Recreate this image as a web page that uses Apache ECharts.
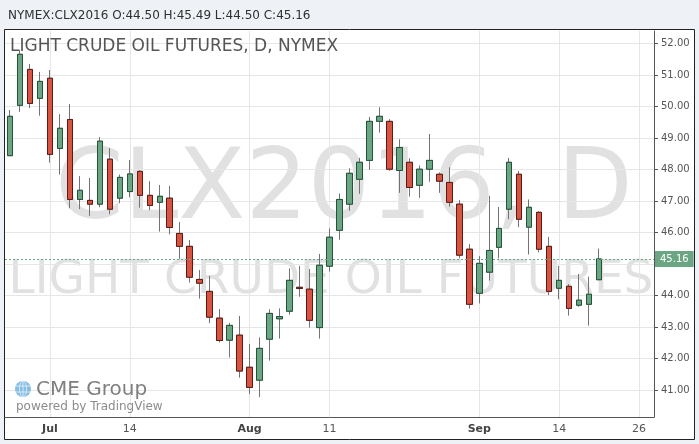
<!DOCTYPE html>
<html><head><meta charset="utf-8">
<script src="https://cdn.jsdelivr.net/npm/echarts@6/dist/echarts.min.js"></script>
<style>html,body{margin:0;padding:0;background:#eef1f6;}#c{width:699px;height:444px;}</style>
</head><body><div id="c"></div>
<script>
// Trading days (plus a few future sessions on the right)
const dates = [
 '2016-06-27','2016-06-28','2016-06-29','2016-06-30','2016-07-01','2016-07-05','2016-07-06','2016-07-07','2016-07-08',
 '2016-07-11','2016-07-12','2016-07-13','2016-07-14','2016-07-15','2016-07-18','2016-07-19','2016-07-20','2016-07-21','2016-07-22',
 '2016-07-25','2016-07-26','2016-07-27','2016-07-28','2016-07-29','2016-08-01','2016-08-02','2016-08-03','2016-08-04','2016-08-05',
 '2016-08-08','2016-08-09','2016-08-10','2016-08-11','2016-08-12','2016-08-15','2016-08-16','2016-08-17','2016-08-18','2016-08-19',
 '2016-08-22','2016-08-23','2016-08-24','2016-08-25','2016-08-26','2016-08-29','2016-08-30','2016-08-31','2016-09-01','2016-09-02',
 '2016-09-06','2016-09-07','2016-09-08','2016-09-09','2016-09-12','2016-09-13','2016-09-14','2016-09-15','2016-09-16','2016-09-19',
 '2016-09-20','2016-09-21','2016-09-22','2016-09-23','2016-09-26','2016-09-27'
];
const opens  = [48.44,50.04,51.18,50.26,50.90,48.67,49.59,47.05,47.02,46.90,48.33,47.09,47.30,47.94,47.18,46.96,47.09,45.97,45.56,44.51,
 44.13,43.28,42.58,42.74,41.72,41.31,42.61,43.26,43.50,44.26,44.20,42.98,44.93,46.07,46.90,47.69,48.29,49.53,49.53,47.97,
 48.23,47.50,48.01,47.85,47.59,46.90,45.47,44.07,44.74,45.53,46.74,47.85,46.17,46.64,45.56,44.23,44.29,43.69,43.72,44.50];
const highs  = [49.89,51.79,51.35,51.10,51.16,49.76,50.08,47.79,47.73,49.03,48.68,47.84,48.30,47.98,47.63,47.51,47.48,46.33,45.76,44.81,
 44.62,43.57,43.13,43.35,42.46,42.67,43.56,43.59,44.86,44.94,44.84,45.32,46.13,47.24,48.04,48.37,49.67,49.98,49.60,48.96,
 48.36,48.13,49.13,47.91,48.07,47.03,45.63,45.25,47.16,46.81,48.37,47.95,47.05,46.68,45.86,44.94,44.36,44.68,44.60,45.49];
const lows   = [48.44,49.83,49.95,49.71,48.22,47.84,46.77,46.74,46.53,46.80,46.58,46.93,47.12,46.79,46.71,46.03,45.94,45.16,44.41,43.90,
 43.12,42.51,42.03,41.39,40.87,40.77,41.93,42.63,43.39,43.96,42.98,42.63,44.76,45.77,46.69,47.23,47.99,49.17,47.96,47.26,
 47.14,47.10,47.61,47.26,46.82,45.18,43.58,43.75,44.47,45.18,46.42,46.17,45.30,45.37,44.01,43.88,43.36,43.64,43.04,44.50];
const closes = [49.69,51.66,50.10,50.80,48.48,49.31,47.05,47.34,46.90,48.90,46.74,47.75,47.86,47.18,46.86,47.15,46.16,45.56,44.58,44.39,
 43.31,42.57,43.05,41.60,41.08,42.32,43.43,43.33,44.48,44.22,43.21,44.96,45.85,47.05,47.88,48.23,49.53,49.69,48.01,48.70,
 47.43,48.01,48.29,47.63,46.96,45.28,43.72,45.02,45.43,46.13,48.23,46.42,46.80,45.47,44.13,44.48,43.59,43.85,44.04,45.16];
const tickDates  = ['2016-07-01','2016-07-14','2016-08-01','2016-08-11','2016-09-01','2016-09-14','2016-09-26'];
const tickLabels = ['Jul','14','Aug','11','Sep','14','26'];
const monthLabels = ['Jul','Aug','Sep'];
const priceTicks = [41,42,43,44,45,46,47,48,49,50,51,52];
const lastPrice = 45.16;
const symbolName = 'NYMEX:CLX2016';
const title = 'LIGHT CRUDE OIL FUTURES, D, NYMEX';

const full = opens.map((o,i)=>[o, closes[i], lows[i], highs[i]]);
const bodies = opens.map((o,i)=>[o, closes[i], Math.min(o,closes[i]), Math.max(o,closes[i])]);
const n = opens.length - 1;
const header = symbolName + ' O:' + opens[n].toFixed(2) + ' H:' + highs[n].toFixed(2) + ' L:' + lows[n].toFixed(2) + ' C:' + closes[n].toFixed(2);

const UP='#6ba583', DOWN='#d75442', UPB='#225437', DOWNB='#5b1a13', WICK='#737375';
const F='"DejaVu Sans", sans-serif';

const chart = echarts.init(document.getElementById('c'), null, {renderer:'canvas'});
function txt(text, x, y, size, color, extra){
  return Object.assign({type:'text', x:x, y:y, silent:true, z:extra&&extra.z!=null?extra.z:10,
    style:Object.assign({text:text, fill:color, font:(extra&&extra.weight?extra.weight+' ':'')+size+'px '+F,
      align:'left', verticalAlign:'middle', textAlign:'left', textVerticalAlign:'middle'}, extra&&extra.style||{})});
}
chart.setOption({
  backgroundColor:'#eef1f6',
  animation:false,
  grid:{left:5, right:45, top:31, bottom:27, containLabel:false},
  xAxis:{type:'category', data:dates, boundaryGap:true,
    axisLine:{show:true, lineStyle:{color:'#555', width:1}},
    axisTick:{show:false},
    axisLabel:{interval:(i,v)=>tickDates.indexOf(v)>=0, margin:7,
      formatter:(v)=>{const k=tickDates.indexOf(v); if(k<0) return ''; const t=tickLabels[k]; return monthLabels.indexOf(t)>=0?'{b|'+t+'}':'{n|'+t+'}';},
      rich:{b:{fontWeight:'bold', fontSize:11, color:'#444', fontFamily:F}, n:{fontSize:11, color:'#555', fontFamily:F}}},
    splitLine:{show:true, alignWithLabel:true, interval:(i,v)=>tickDates.indexOf(v)>=0, lineStyle:{color:'#e6e6e6', width:1}}
  },
  yAxis:{type:'value', position:'right', min:40.14, max:52.40, scale:true,
    axisLine:{show:true, lineStyle:{color:'#555', width:1}},
    axisTick:{show:true, length:4, inside:false, customValues:priceTicks, lineStyle:{color:'#555'}},
    axisLabel:{customValues:priceTicks, formatter:(v)=>v.toFixed(2), color:'#555', fontSize:10, fontFamily:F, margin:7},
    splitLine:{show:true, lineStyle:{color:'#e6e6e6', width:1}}
  },
  graphic:[
    {type:'rect', silent:true, z:-100, shape:{x:4.5, y:29.5, width:690, height:410}, style:{fill:'#fff', stroke:'#222', lineWidth:1}},
    txt('CLX2016, D', 344, 193, 98, 'rgba(140,140,140,0.26)', {z:-50, style:{align:'center', textAlign:'center'}}),
    txt('LIGHT CRUDE OIL FUTURES', 331, 281, 47, 'rgba(140,140,140,0.26)', {z:-50, style:{align:'center', textAlign:'center'}}),
    txt(header, 8, 16, 12, '#2f2f2f'),
    txt(title, 10, 47, 17, '#555'),
    {type:'circle', silent:true, z:10, shape:{cx:23, cy:389, r:8}, style:{fill:'#86bde2'}},
    {type:'line', silent:true, z:11, shape:{x1:15, y1:386, x2:31, y2:386}, style:{stroke:'#e8f3fb', lineWidth:0.8}},
    {type:'line', silent:true, z:11, shape:{x1:15, y1:392, x2:31, y2:392}, style:{stroke:'#e8f3fb', lineWidth:0.8}},
    {type:'ellipse', silent:true, z:11, shape:{cx:23, cy:389, rx:3.5, ry:8}, style:{fill:'none', stroke:'#e8f3fb', lineWidth:0.8}},
    {type:'line', silent:true, z:11, shape:{x1:23, y1:381, x2:23, y2:397}, style:{stroke:'#e8f3fb', lineWidth:0.8}},
    txt('CME Group', 36, 390, 20, '#7f7f7f'),
    txt('powered by TradingView', 16, 407, 12, '#8c8c8c')
  ],
  series:[
    {type:'candlestick', name:'wick', data:full, barWidth:6, silent:true,
      itemStyle:{color:UP, color0:DOWN, borderColor:WICK, borderColor0:WICK, borderWidth:1},
      markLine:{silent:true, symbol:['none','none'], animation:false,
        lineStyle:{color:'#6ba583', type:[2,2], width:1},
        label:{show:true, position:'end', distance:1, formatter:()=>lastPrice.toFixed(2), color:'#fff',
          backgroundColor:'#6ba583', padding:[3,5,3,5], fontSize:10, fontFamily:F},
        data:[{yAxis:lastPrice}]}
    },
    {type:'candlestick', name:'body', data:bodies, barWidth:6, silent:true,
      itemStyle:{color:UP, color0:DOWN, borderColor:UPB, borderColor0:DOWNB, borderWidth:1}}
  ]
});
</script></body></html>
